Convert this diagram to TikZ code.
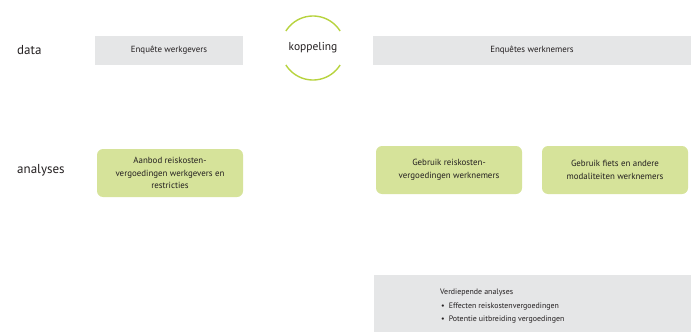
\documentclass[tikz,border=0pt]{standalone}
\usepackage{fontspec}
\setmainfont{PT Sans}
\usetikzlibrary{positioning}
\definecolor{dataFill}{RGB}{229, 230, 231}
\definecolor{analysisFill}{RGB}{214, 227, 154}
\definecolor{linkColor}{RGB}{183, 211, 62}
\definecolor{textColor}{RGB}{35, 31, 32}
\tikzset{
    row_label/.style={
        anchor=west,
        inner sep=0pt,
        text=textColor,
        font=\fontsize{13}{15}\selectfont
    },
    data_box/.style={
        fill=dataFill,
        text=textColor,
        font=\fontsize{8.9}{10.5}\selectfont,
        inner sep=0pt
    },
    analysis_box/.style={
        fill=analysisFill,
        rounded corners=6pt,
        text=textColor,
        align=center,
        font=\fontsize{8.9}{12.5}\selectfont,
        inner sep=0pt
    },
    link_arc/.style={
        draw=linkColor,
        line width=1.4pt
    }
}
\begin{document}
\begin{tikzpicture}[x=1pt, y=-1pt]
    \useasboundingbox (0,0) rectangle (691,332);

    % row labels
    \node[row_label] (data) at (17,50) {data};
    \node[row_label] (analyses) at (17,170) {analyses};

    % data sources
    \node[data_box, minimum width=148pt, minimum height=29pt] (werkgevers) at (169,50.5) {Enquête werkgevers};
    \node[data_box, minimum width=318pt, minimum height=29pt] (werknemers) at (532,50.5) {Enquêtes werknemers};

    % koppeling
    \node[text=textColor, font=\fontsize{11.5}{13}\selectfont] (koppeling) at (313,48) {koppeling};
    \draw[link_arc] (koppeling.center) ++(32:32) arc[start angle=32, end angle=148, radius=32];
    \draw[link_arc] (koppeling.center) ++(212:32) arc[start angle=212, end angle=328, radius=32];

    % analyses
    \node[analysis_box, minimum width=146pt, minimum height=48pt] (aanbod) at (170,173)
        {Aanbod reiskosten-\\vergoedingen werkgevers en\\restricties};
    \node[analysis_box, minimum width=146pt, minimum height=48pt] (gebruik) at (449,170)
        {Gebruik reiskosten-\\vergoedingen werknemers};
    \node[analysis_box, minimum width=146pt, minimum height=48pt] (fiets) at (615,170)
        {Gebruik fiets en andere\\modaliteiten werknemers};

    % verdiepende analyses
    \node[data_box, minimum width=317pt, minimum height=57pt] (verdiepend) at (532.5,303.5) {};
    \node[anchor=north west, text=textColor, align=left, font=\fontsize{7.9}{13.5}\selectfont, inner sep=0pt] (verdiependtxt) at (440,289)
        {Verdiepende analyses\\
         \hspace*{1pt}\textbullet\hspace{4pt}Effecten reiskostenvergoedingen\\
         \hspace*{1pt}\textbullet\hspace{4pt}Potentie uitbreiding vergoedingen};
\end{tikzpicture}
\end{document}
